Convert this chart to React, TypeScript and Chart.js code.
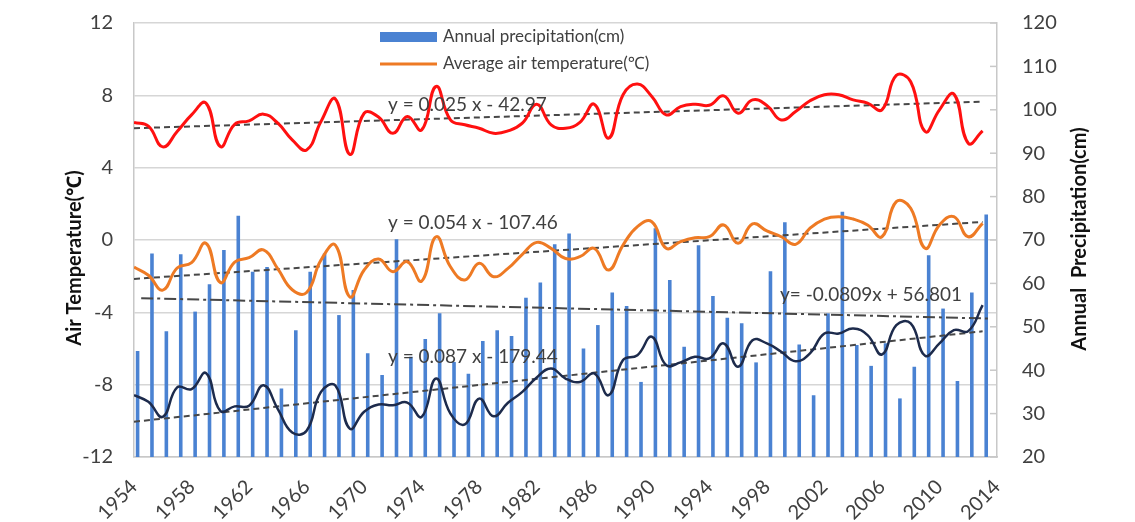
import React, { useEffect, useRef } from "react";
import { Chart, registerables } from "chart.js";

Chart.register(...registerables);

// ---------- data ----------
const years = [
  1954, 1955, 1956, 1957, 1958, 1959, 1960, 1961, 1962, 1963,
  1964, 1965, 1966, 1967, 1968, 1969, 1970, 1971, 1972, 1973,
  1974, 1975, 1976, 1977, 1978, 1979, 1980, 1981, 1982, 1983,
  1984, 1985, 1986, 1987, 1988, 1989, 1990, 1991, 1992, 1993,
  1994, 1995, 1996, 1997, 1998, 1999, 2000, 2001, 2002, 2003,
  2004, 2005, 2006, 2007, 2008, 2009, 2010, 2011, 2012, 2013,
];
const yearLabels = years.map(String);

// Annual precipitation (cm) – right axis
const precipitation = [
  44.4, 66.9, 49.0, 66.7, 53.5, 59.8, 67.7, 75.6, 62.7, 63.8,
  35.8, 49.2, 62.7, 66.9, 52.7, 58.5, 43.9, 38.9, 70.2, 43.1,
  47.2, 53.1, 41.9, 39.2, 46.7, 49.2, 47.9, 56.7, 60.2, 69.0,
  71.5, 45.0, 50.4, 57.9, 54.8, 37.3, 72.7, 60.8, 45.4, 68.8,
  57.1, 52.1, 50.8, 41.8, 62.8, 74.1, 45.9, 34.2, 53.1, 76.5,
  45.8, 41.0, 46.2, 33.5, 40.8, 66.5, 54.2, 37.5, 57.9, 75.9,
];

// Maximum air temperature (red)
const maxTemp = [
  6.5, 6.3, 5.15, 6.0, 6.92, 7.57, 5.17, 6.4, 6.59, 6.96,
  6.46, 5.54, 4.98, 6.55, 7.8, 4.74, 7.01, 6.8, 5.9, 6.83,
  6.09, 8.49, 6.64, 6.37, 6.18, 5.9, 6.03, 6.46, 7.51, 6.37,
  6.18, 6.51, 7.51, 5.63, 8.03, 8.62, 7.94, 6.92, 7.38, 7.51,
  7.45, 7.97, 7.01, 7.75, 7.44, 6.64, 7.1, 7.7, 8.03, 8.03,
  7.75, 7.57, 7.2, 9.1, 8.75, 6.0, 7.2, 8.07, 5.35, 6.03,
];

// Average air temperature (orange)
const avgTemp = [
  -1.5, -1.95, -2.77, -1.55, -1.25, -0.18, -2.35, -1.22, -0.98, -0.55,
  -1.6, -2.75, -2.9, -1.11, -0.28, -3.14, -1.66, -1.05, -1.75, -1.2,
  -2.27, 0.18, -1.48, -2.21, -1.29, -2.03, -1.57, -0.79, -0.13, -0.46,
  -1.02, -0.92, -0.46, -1.66, -0.28, 0.74, 1.01, -0.46, -0.09, 0.13,
  0.18, 0.83, -0.18, 0.89, 0.5, 0.18, -0.24, 0.65, 1.16, 1.29,
  1.16, 0.83, 0.18, 2.12, 1.76, -0.46, 0.83, 1.29, 0.18, 0.92,
];

// Minimum air temperature (navy)
const minTemp = [
  -8.58, -8.95, -9.78, -8.15, -8.25, -7.36, -9.45, -9.2, -9.16, -8.03,
  -9.35, -10.65, -10.55, -8.4, -8.05, -10.43, -9.5, -9.1, -9.14, -8.99,
  -9.78, -7.66, -9.6, -10.2, -8.77, -9.75, -9.0, -8.4, -7.6, -7.1,
  -7.66, -7.85, -7.38, -8.58, -6.64, -6.37, -5.35, -6.92, -6.77, -6.46,
  -6.55, -5.72, -7.01, -5.54, -5.72, -6.18, -6.7, -6.27, -5.17, -5.17,
  -4.89, -5.26, -6.33, -4.71, -4.61, -6.4, -5.72, -4.98, -5.04, -3.6,
];

// Linear trend lines (end points)
const trendYears = [1954, 2013];
const maxTrend = [6.18, 7.65];
const avgTrend = [-2.15, 1.0];
const minTrend = [-10.05, -5.05];
const precipTrendLabels = ["1954", "2013"];
const precipTrend = [56.6, 51.9];

const trendTexts = [
  "y = 0.025 x - 42.97",
  "y = 0.054 x - 107.46",
  "y = 0.087 x - 179.44",
  "y= -0.0809x + 56.801",
];
const legendTexts = ["Annual precipitation(cm)", "Average air temperature(\u2103)"];
const leftTitle = "Air Temperature(\u2103)";
const rightTitle = "Annual  Precipitation(cm)";

const tempMin = -12, tempMax = 12, tempStep = 4;
const precMin = 20, precMax = 120, precStep = 10;
const xMin = 1954, xMax = 2014, xStep = 4;

// ---------- styles ----------
const FONT = "Lato, 'Noto Sans', sans-serif";
const BAR_COLOR = "#4a82d2";
const RED = "#ff1010";
const ORANGE = "#ee7a24";
const NAVY = "#1d2b4c";
const TREND = "#474747";
const GRID = "#d6d6d6";
const TEXT = "#404040";
const CLEAR = "rgba(0,0,0,0)";

const overlay = {
  id: "overlay",
  afterDraw(chart: any) {
    const ctx = chart.ctx as CanvasRenderingContext2D;
    const area = chart.chartArea;
    ctx.save();
    // inner tick marks on right axis
    const y1 = chart.scales.y1;
    ctx.strokeStyle = "#c8c8c8";
    ctx.lineWidth = 1.5;
    for (let v = precMin; v <= precMax; v += precStep) {
      const py = y1.getPixelForValue(v);
      ctx.beginPath();
      ctx.moveTo(area.right - 7, py);
      ctx.lineTo(area.right, py);
      ctx.stroke();
    }
    // legend
    ctx.fillStyle = BAR_COLOR;
    ctx.fillRect(380, 32, 57, 10);
    ctx.strokeStyle = ORANGE;
    ctx.lineWidth = 3;
    ctx.beginPath();
    ctx.moveTo(380, 64);
    ctx.lineTo(437, 64);
    ctx.stroke();
    ctx.fillStyle = TEXT;
    ctx.font = `17px ${FONT}`;
    ctx.textBaseline = "middle";
    ctx.textAlign = "left";
    ctx.fillText(legendTexts[0], 443, 37);
    ctx.fillText(legendTexts[1], 443, 64);
    // trend equations
    ctx.font = `19px ${FONT}`;
    ctx.fillStyle = TEXT;
    ctx.fillText(trendTexts[0], 388, 105);
    ctx.fillText(trendTexts[1], 388, 223);
    ctx.fillText(trendTexts[2], 388, 357);
    ctx.fillText(trendTexts[3], 780, 295);
    // axis titles
    ctx.fillStyle = "#111";
    ctx.font = `bold 20px ${FONT}`;
    ctx.textAlign = "center";
    ctx.save();
    ctx.translate(75, 258);
    ctx.rotate(-Math.PI / 2);
    ctx.fillText(leftTitle, 0, 0);
    ctx.restore();
    ctx.save();
    ctx.translate(1080, 239);
    ctx.rotate(-Math.PI / 2);
    ctx.fillText(rightTitle, 0, 0);
    ctx.restore();
    ctx.restore();
  },
};

export default function App() {
  const ref = useRef<HTMLCanvasElement>(null);

  useEffect(() => {
    document.body.style.margin = "0";
    const canvas = ref.current!;
    const line = (data: number[], color: string, width: number) => ({
      type: "line" as const,
      data: years.map((yr, i) => ({ x: yr, y: data[i] })),
      borderColor: color,
      borderWidth: width,
      pointRadius: 0,
      tension: 0.45,
      xAxisID: "x",
      yAxisID: "y",
      order: 1,
    });
    const trend = (data: number[]) => ({
      type: "line" as const,
      data: trendYears.map((yr, i) => ({ x: yr, y: data[i] })),
      borderColor: TREND,
      borderWidth: 2,
      borderDash: [6, 4],
      pointRadius: 0,
      xAxisID: "x",
      yAxisID: "y",
      order: 2,
    });
    const chart = new Chart(canvas, {
      data: {
        datasets: [
          {
            type: "bar",
            data: precipitation,
            backgroundColor: BAR_COLOR,
            xAxisID: "xBar",
            yAxisID: "y1",
            barPercentage: 0.5,
            categoryPercentage: 1,
            order: 5,
          } as any,
          line(maxTemp, RED, 3),
          line(avgTemp, ORANGE, 3),
          line(minTemp, NAVY, 2.5),
          trend(maxTrend),
          trend(avgTrend),
          trend(minTrend),
          {
            type: "line",
            data: precipTrendLabels.map((l, i) => ({ x: l, y: precipTrend[i] })),
            borderColor: TREND,
            borderWidth: 2,
            borderDash: [12, 4, 3, 4],
            pointRadius: 0,
            xAxisID: "xBar",
            yAxisID: "y1",
            order: 2,
          } as any,
        ],
      },
      options: {
        responsive: false,
        animation: false,
        devicePixelRatio: 1,
        layout: { padding: { top: 23, left: 0, right: 0, bottom: 0 } },
        plugins: { legend: { display: false }, tooltip: { enabled: false } },
        scales: {
          x: {
            type: "linear",
            position: "bottom",
            min: xMin,
            max: xMax,
            afterFit: (s: any) => { s.height = 65; },
            grid: { display: false },
            border: { color: "#c8c8c8", width: 1.5 },
            ticks: {
              stepSize: xStep,
              autoSkip: false,
              maxRotation: 45,
              minRotation: 45,
              padding: 10,
              color: TEXT,
              font: { family: FONT, size: 20 },
              callback: (v: any) => String(v),
            },
          },
          xBar: {
            type: "category",
            labels: yearLabels,
            offset: true,
            display: false,
          },
          y: {
            type: "linear",
            position: "left",
            min: tempMin,
            max: tempMax,
            afterFit: (s: any) => { s.width = 134; },
            grid: { color: GRID, lineWidth: 1.5, drawTicks: true, tickLength: 21, tickColor: CLEAR },
            border: { color: "#c8c8c8", width: 1.5 },
            ticks: {
              stepSize: tempStep,
              padding: 0,
              color: TEXT,
              font: { family: FONT, size: 20 },
            },
          },
          y1: {
            type: "linear",
            position: "right",
            min: precMin,
            max: precMax,
            afterFit: (s: any) => { s.width = 138; },
            grid: { drawOnChartArea: false, drawTicks: true, tickLength: 25, tickColor: CLEAR },
            border: { color: "#c8c8c8", width: 1.5 },
            ticks: {
              stepSize: precStep,
              padding: 0,
              color: TEXT,
              font: { family: FONT, size: 20 },
            },
          },
        },
      } as any,
      plugins: [overlay],
    });
    return () => chart.destroy();
  }, []);

  return <canvas ref={ref} width={1135} height={522} style={{ display: "block" }} />;
}
